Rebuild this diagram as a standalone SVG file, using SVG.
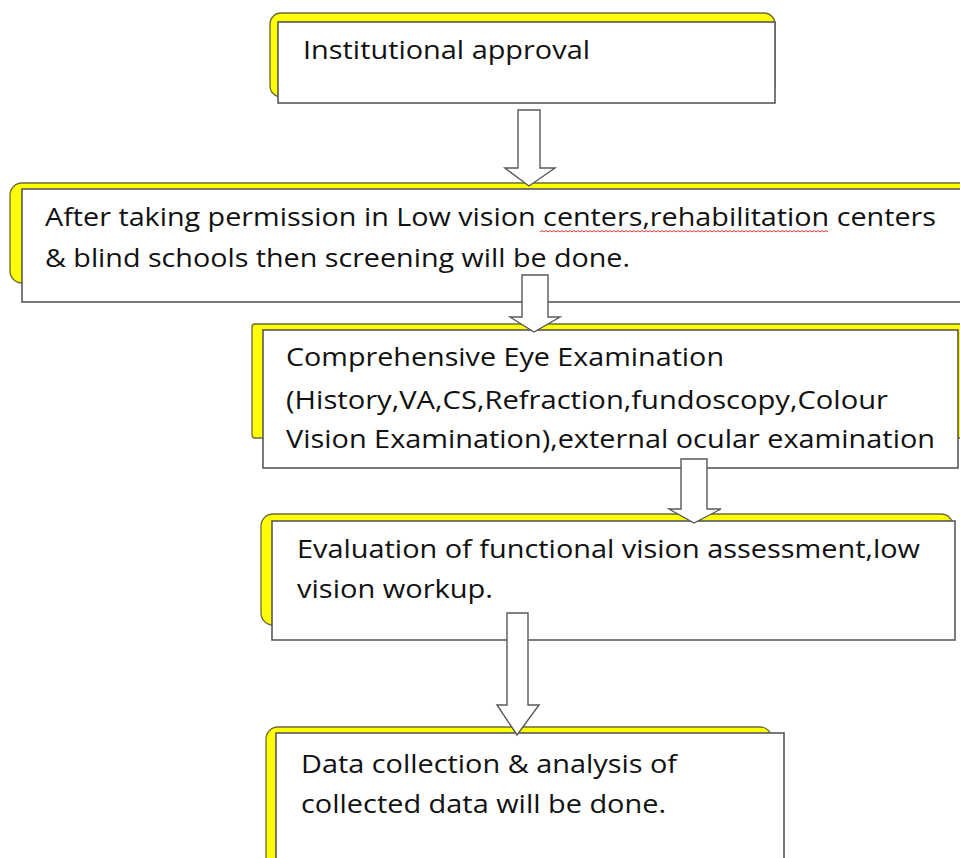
<svg xmlns="http://www.w3.org/2000/svg" width="960" height="858" viewBox="0 0 960 858">
  <style>
    .scroll { fill: #ffff00; stroke: #6b6b3a; stroke-width: 1.3; }
    .card { fill: #ffffff; stroke: #595959; stroke-width: 1.6; }
    .step { font-family: "Open Sans", "Noto Sans", "Liberation Sans", sans-serif; font-size: 25px; fill: #111111; }
    .flow { fill: #ffffff; stroke: #595959; stroke-width: 1.4; stroke-linejoin: miter; }
    .spell { fill: none; stroke: #e03030; stroke-width: 1; }
  </style>
  <rect width="960" height="858" fill="#ffffff"/>

  <g id="node-approval">
    <rect class="scroll" x="270" y="13" width="505" height="84" rx="11"/>
    <rect class="card" x="278" y="22" width="497" height="81"/>
    <text class="step" x="303" y="59" textLength="287" lengthAdjust="spacingAndGlyphs">Institutional approval</text>
  </g>

  <g id="node-permission">
    <rect class="scroll" x="10" y="183" width="970" height="100" rx="12"/>
    <rect class="card" x="22" y="189" width="960" height="113"/>
    <text class="step" x="45" y="226" textLength="891" lengthAdjust="spacingAndGlyphs">After taking permission in Low vision centers,rehabilitation centers</text>
    <!-- spell-check underline -->
    <path class="spell" d="M540 232
      l2 -1.5 l2 1.5 l2 -1.5 l2 1.5 l2 -1.5 l2 1.5 l2 -1.5 l2 1.5 l2 -1.5 l2 1.5 l2 -1.5 l2 1.5 l2 -1.5 l2 1.5 l2 -1.5 l2 1.5
      l2 -1.5 l2 1.5 l2 -1.5 l2 1.5 l2 -1.5 l2 1.5 l2 -1.5 l2 1.5 l2 -1.5 l2 1.5 l2 -1.5 l2 1.5 l2 -1.5 l2 1.5 l2 -1.5 l2 1.5
      l2 -1.5 l2 1.5 l2 -1.5 l2 1.5 l2 -1.5 l2 1.5 l2 -1.5 l2 1.5 l2 -1.5 l2 1.5 l2 -1.5 l2 1.5 l2 -1.5 l2 1.5 l2 -1.5 l2 1.5
      l2 -1.5 l2 1.5 l2 -1.5 l2 1.5 l2 -1.5 l2 1.5 l2 -1.5 l2 1.5 l2 -1.5 l2 1.5 l2 -1.5 l2 1.5 l2 -1.5 l2 1.5 l2 -1.5 l2 1.5
      l2 -1.5 l2 1.5 l2 -1.5 l2 1.5 l2 -1.5 l2 1.5 l2 -1.5 l2 1.5 l2 -1.5 l2 1.5 l2 -1.5 l2 1.5 l2 -1.5 l2 1.5 l2 -1.5 l2 1.5
      l2 -1.5 l2 1.5 l2 -1.5 l2 1.5 l2 -1.5 l2 1.5 l2 -1.5 l2 1.5 l2 -1.5 l2 1.5 l2 -1.5 l2 1.5 l2 -1.5 l2 1.5 l2 -1.5 l2 1.5
      l2 -1.5 l2 1.5 l2 -1.5 l2 1.5 l2 -1.5 l2 1.5 l2 -1.5 l2 1.5 l2 -1.5 l2 1.5 l2 -1.5 l2 1.5 l2 -1.5 l2 1.5 l2 -1.5 l2 1.5
      l2 -1.5 l2 1.5 l2 -1.5 l2 1.5 l2 -1.5 l2 1.5 l2 -1.5 l2 1.5 l2 -1.5 l2 1.5 l2 -1.5 l2 1.5 l2 -1.5 l2 1.5 l2 -1.5 l2 1.5
      l2 -1.5 l2 1.5 l2 -1.5 l2 1.5 l2 -1.5 l2 1.5 l2 -1.5 l2 1.5 l2 -1.5 l2 1.5 l2 -1.5 l2 1.5 l2 -1.5 l2 1.5 l2 -1.5 l2 1.5"/>
    <text class="step" x="45" y="267" textLength="585" lengthAdjust="spacingAndGlyphs">&amp; blind schools then screening will be done.</text>
  </g>

  <g id="node-examination">
    <rect class="scroll" x="252" y="324" width="730" height="114" rx="3"/>
    <rect class="card" x="263" y="330" width="695" height="138"/>
    <text class="step" x="286" y="366" textLength="438" lengthAdjust="spacingAndGlyphs">Comprehensive Eye Examination</text>
    <text class="step" x="286" y="409" textLength="602" lengthAdjust="spacingAndGlyphs">(History,VA,CS,Refraction,fundoscopy,Colour</text>
    <text class="step" x="286" y="448" textLength="649" lengthAdjust="spacingAndGlyphs">Vision Examination),external ocular examination</text>
  </g>

  <g id="node-evaluation">
    <rect class="scroll" x="261" y="514" width="692" height="111" rx="12"/>
    <rect class="card" x="272" y="521" width="683" height="119"/>
    <text class="step" x="297" y="558" textLength="623" lengthAdjust="spacingAndGlyphs">Evaluation of functional vision assessment,low</text>
    <text class="step" x="297" y="598" textLength="196" lengthAdjust="spacingAndGlyphs">vision workup.</text>
  </g>

  <g id="node-analysis">
    <rect class="scroll" x="266" y="727" width="506" height="150" rx="12"/>
    <rect class="card" x="276" y="733" width="508" height="140"/>
    <text class="step" x="301" y="773" textLength="376" lengthAdjust="spacingAndGlyphs">Data collection &amp; analysis of</text>
    <text class="step" x="301" y="813" textLength="365" lengthAdjust="spacingAndGlyphs">collected data will be done.</text>
  </g>

  <g id="connectors">
    <polygon class="flow" points="518,110 540,110 540,168 555,168 529,186 505,168 518,168"/>
    <polygon class="flow" points="522,275 548,275 548,317 560,317 534,332 510,317 522,317"/>
    <polygon class="flow" points="681,459 707,459 707,509 721,509 694,523 669,509 681,509"/>
    <polygon class="flow" points="507,613 528,613 528,705 539,705 517,735 497,705 507,705"/>
  </g>
</svg>
